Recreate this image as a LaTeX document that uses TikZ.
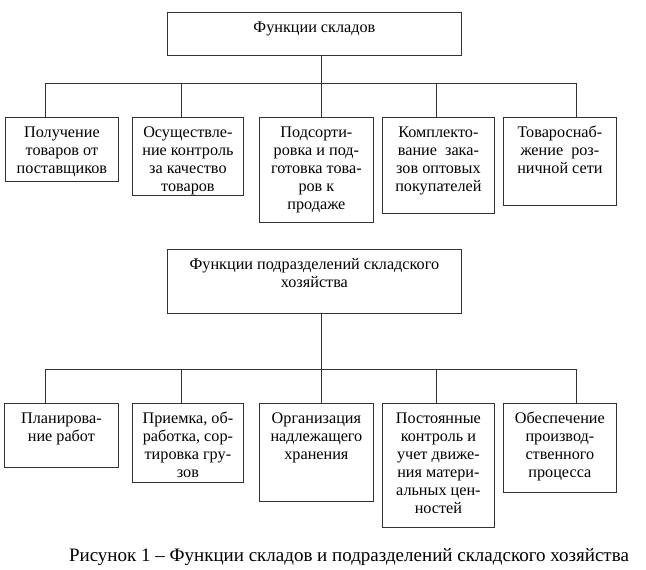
\documentclass[tikz,border=0pt]{standalone}
\usepackage{fontspec}
\setmainfont{Liberation Serif}
\newcommand{\bx}[3]{\parbox[t][#2pt][t]{#1pt}{\fontsize{16.2}{18}\selectfont\centering\rule{0pt}{20pt}\ignorespaces #3\par}}
\begin{document}
\begin{tikzpicture}[x=1pt,y=-1pt,
  box/.style={draw=black!80, line width=0.8pt, inner sep=0pt, anchor=north west},
  conn/.style={draw=black!80, line width=0.8pt}]
\useasboundingbox (0,0) rectangle (646,570);
% ---- top section
\node[box] (top) at (167,12) {\bx{294}{43}{Функции складов}};
\node[box] (c1) at (5,117) {\bx{113}{64}{Получение\\товаров от\\поставщиков}};
\node[box] (c2) at (132,117) {\bx{111}{78}{Осуществле-\\ние контроль\\за качество\\товаров}};
\node[box] (c3) at (259,117) {\bx{114}{105}{Подсорти-\\ровка и под-\\готовка това-\\ров к\\продаже}};
\node[box] (c4) at (382,117) {\bx{112}{96}{Комплекто-\\вание\ \ зака-\\зов оптовых\\покупателей}};
\node[box] (c5) at (503,117) {\bx{113}{88}{Товароснаб-\\жение\ \ роз-\\ничной сети}};
\coordinate (a1) at (45,83);
\coordinate (a2) at (181,83);
\coordinate (a3) at (321,83);
\coordinate (a4) at (436,83);
\coordinate (a5) at (576,83);
\draw[conn] (a1) -- (a5);
\draw[conn] (top.south -| a3) -- (a3);
\foreach \i in {1,...,5} {\draw[conn] (a\i) -- (a\i |- c\i.north);}
% ---- bottom section
\node[box] (top2) at (167,249) {\bx{294}{64}{Функции подразделений складского\\хозяйства}};
\node[box] (d1) at (4,403) {\bx{114}{64}{Планирова-\\ние работ}};
\node[box] (d2) at (132,403) {\bx{111}{79}{Приемка, об-\\работка, сор-\\тировка гру-\\зов}};
\node[box] (d3) at (259,403) {\bx{114}{98}{Организация\\надлежащего\\хранения}};
\node[box] (d4) at (382,403) {\bx{112}{124}{Постоянные\\контроль и\\учет движе-\\ния матери-\\альных цен-\\ностей}};
\node[box] (d5) at (503,403) {\bx{113}{89}{Обеспечение\\производ-\\ственного\\процесса}};
\coordinate (b1) at (45,369);
\coordinate (b2) at (181,369);
\coordinate (b3) at (321,369);
\coordinate (b4) at (436,369);
\coordinate (b5) at (576,369);
\draw[conn] (b1) -- (b5);
\draw[conn] (top2.south -| b3) -- (b3);
\foreach \i in {1,...,5} {\draw[conn] (b\i) -- (b\i |- d\i.north);}
% ---- caption
\node[anchor=base, inner sep=0pt, font=\fontsize{19}{23}\selectfont] (cap) at (349,561) {Рисунок 1 – Функции складов и подразделений складского хозяйства};
\end{tikzpicture}
\end{document}
